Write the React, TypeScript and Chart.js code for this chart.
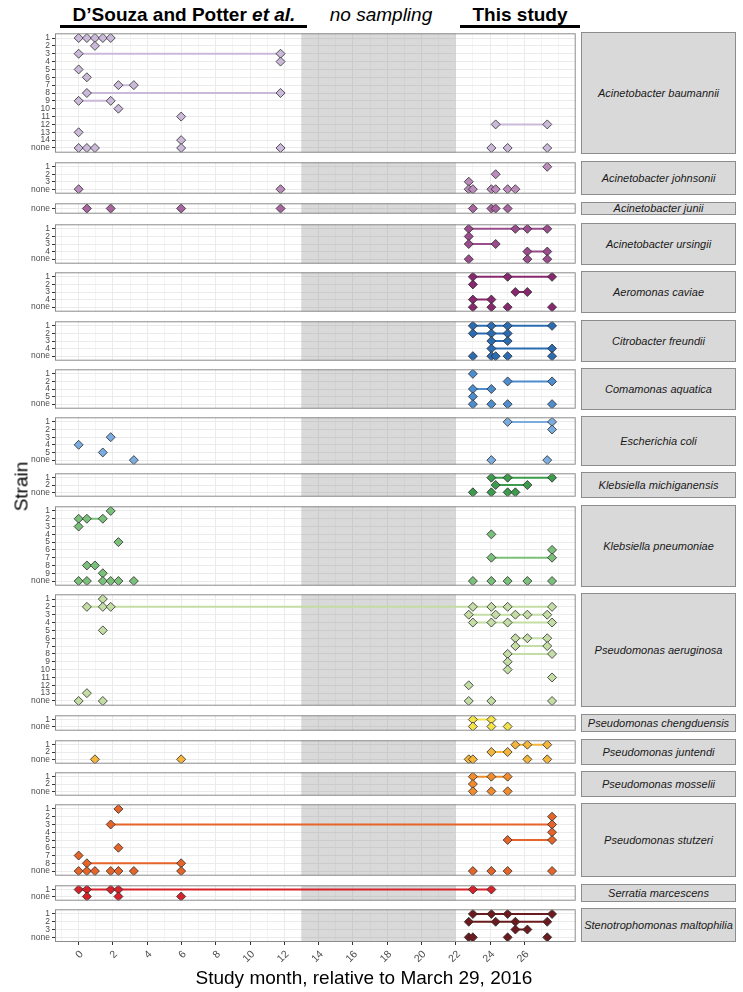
import React, { useEffect, useRef } from 'react';
import { Chart, registerables } from 'chart.js';

Chart.register(...registerables);

type Row = [string, number[]];

// ---------------- data ----------------
const SPECIES = [
  'Acinetobacter baumannii',
  'Acinetobacter johnsonii',
  'Acinetobacter junii',
  'Acinetobacter ursingii',
  'Aeromonas caviae',
  'Citrobacter freundii',
  'Comamonas aquatica',
  'Escherichia coli',
  'Klebsiella michiganensis',
  'Klebsiella pneumoniae',
  'Pseudomonas aeruginosa',
  'Pseudomonas chengduensis',
  'Pseudomonas juntendi',
  'Pseudomonas mosselii',
  'Pseudomonas stutzeri',
  'Serratia marcescens',
  'Stenotrophomonas maltophilia',
];

const COLORS = [
  '#CBB9DA', '#BB8BBC', '#A8649E', '#9A4C8C', '#88286F',
  '#2B6BB2', '#4D8DCF', '#7AACE0',
  '#3C9B4C', '#7ABF7A', '#C4DDA5',
  '#F4E24A', '#F4B53C', '#F08C2C', '#E4642A', '#D8222B', '#6B1B1D',
];

// [strain, study months at which it was observed]
const A_BAUMANNII: Row[] = [
  ['1', [0, 0.48, 0.95, 1.41, 1.87]],
  ['2', [0.95]],
  ['3', [0, 11.78]],
  ['4', [11.78]],
  ['5', [0]],
  ['6', [0.48]],
  ['7', [2.32, 3.22]],
  ['8', [0.48, 11.78]],
  ['9', [0, 1.87]],
  ['10', [2.32]],
  ['11', [5.98]],
  ['12', [24.33, 27.34]],
  ['13', [0]],
  ['14', [5.98]],
  ['none', [0, 0.48, 0.95, 5.98, 11.78, 24.08, 25.03, 27.34]],
];
const A_JOHNSONII: Row[] = [
  ['1', [27.34]],
  ['2', [24.33]],
  ['3', [22.76]],
  ['none', [0, 11.78, 22.76, 23.0, 24.08, 24.33, 25.03, 25.48]],
];
const A_JUNII: Row[] = [
  ['none', [0.48, 1.87, 5.98, 11.78, 23.0, 24.08, 24.33, 25.03]],
];
const A_URSINGII: Row[] = [
  ['1', [22.76, 25.48, 26.18, 27.34]],
  ['2', [22.76]],
  ['3', [22.76, 24.33]],
  ['4', [26.18, 27.34]],
  ['none', [22.76, 26.18, 27.34]],
];
const A_CAVIAE: Row[] = [
  ['1', [23.0, 25.03, 27.62]],
  ['2', [23.0]],
  ['3', [25.48, 26.18]],
  ['4', [23.0, 24.08]],
  ['none', [23.0, 24.08, 25.03, 27.62]],
];
const C_FREUNDII: Row[] = [
  ['1', [23.0, 24.08, 25.03, 27.62]],
  ['2', [23.0, 24.08, 25.03]],
  ['3', [24.08, 25.03]],
  ['4', [24.08, 27.62]],
  ['none', [23.0, 24.08, 24.33, 25.03, 27.62]],
];
const C_AQUATICA: Row[] = [
  ['1', [23.0]],
  ['2', [25.03, 27.62]],
  ['4', [23.0, 24.08]],
  ['5', [23.0]],
  ['none', [23.0, 24.08, 25.03, 27.62]],
];
const E_COLI: Row[] = [
  ['1', [25.03, 27.62]],
  ['2', [27.62]],
  ['3', [1.87]],
  ['4', [0]],
  ['5', [1.41]],
  ['none', [3.22, 24.08, 27.34]],
];
const K_MICHIGANENSIS: Row[] = [
  ['1', [24.08, 25.03, 27.62]],
  ['2', [24.33, 26.18]],
  ['none', [23.0, 24.08, 25.03, 25.48]],
];
const K_PNEUMONIAE: Row[] = [
  ['1', [1.87]],
  ['2', [0, 0.48, 1.41]],
  ['3', [0]],
  ['4', [24.08]],
  ['5', [2.32]],
  ['6', [27.62]],
  ['7', [24.08, 27.62]],
  ['8', [0.48, 0.95]],
  ['9', [1.41]],
  ['none', [0, 0.48, 1.41, 1.87, 2.32, 3.22, 23.0, 24.08, 25.03, 26.18, 27.62]],
];
const P_AERUGINOSA: Row[] = [
  ['1', [1.41]],
  ['2', [0.48, 1.41, 1.87, 23.0, 24.08, 25.03, 27.62]],
  ['3', [22.76, 24.33, 25.48, 26.18, 27.34]],
  ['4', [23.0, 24.08, 25.03, 27.62]],
  ['5', [1.41]],
  ['6', [25.48, 26.18, 27.34]],
  ['7', [25.48, 27.34]],
  ['8', [25.03, 27.62]],
  ['9', [25.03]],
  ['10', [25.03]],
  ['11', [27.62]],
  ['12', [22.76]],
  ['13', [0.48]],
  ['none', [0, 1.41, 22.76, 24.08, 27.62]],
];
const P_CHENGDUENSIS: Row[] = [
  ['1', [23.0, 24.08]],
  ['none', [23.0, 24.08, 25.03]],
];
const P_JUNTENDI: Row[] = [
  ['1', [25.48, 26.18, 27.34]],
  ['2', [24.08, 25.03]],
  ['none', [0.95, 5.98, 22.76, 23.0, 26.18, 27.34]],
];
const P_MOSSELII: Row[] = [
  ['1', [23.0, 24.08, 25.03]],
  ['2', [23.0]],
  ['none', [23.0, 24.08, 25.03]],
];
const P_STUTZERI: Row[] = [
  ['1', [2.32]],
  ['2', [27.62]],
  ['3', [1.87, 27.62]],
  ['4', [27.62]],
  ['5', [25.03, 27.62]],
  ['6', [2.32]],
  ['7', [0]],
  ['8', [0.48, 5.98]],
  ['none', [0, 0.48, 0.95, 1.87, 2.32, 3.22, 5.98, 23.0, 24.08, 25.03, 27.62]],
];
const S_MARCESCENS: Row[] = [
  ['1', [0, 0.48, 1.87, 2.32, 23.0, 24.08]],
  ['none', [0.48, 2.32, 5.98]],
];
const S_MALTOPHILIA: Row[] = [
  ['1', [23.0, 24.08, 25.03, 27.62]],
  ['2', [22.76, 24.33, 25.48, 27.34]],
  ['3', [25.48, 26.18]],
  ['none', [22.76, 23.0, 25.03, 27.34]],
];

const SPECIES_ROWS: Row[][] = [
  A_BAUMANNII, A_JOHNSONII, A_JUNII, A_URSINGII, A_CAVIAE,
  C_FREUNDII, C_AQUATICA, E_COLI, K_MICHIGANENSIS, K_PNEUMONIAE,
  P_AERUGINOSA, P_CHENGDUENSIS, P_JUNTENDI, P_MOSSELII, P_STUTZERI,
  S_MARCESCENS, S_MALTOPHILIA,
];

const X_MIN = -1.38;
const X_MAX = 29.0;
const X_GRID = [-1, 0, 1, 2, 3, 4, 5, 6, 7, 8, 9, 10, 11, 12, 13, 14, 15, 16, 17, 18, 19, 20, 21, 22, 23, 24, 25, 26, 27, 28];
const X_LABELS = [0, 2, 4, 6, 8, 10, 12, 14, 16, 18, 20, 22, 24, 26];
const SHADE_START = 13;
const SHADE_END = 22;

// ---------------- layout ----------------
const FONT = "'Liberation Sans', Arial, Helvetica, sans-serif";
const PANEL_TOPS = [32, 161, 202, 223, 271, 320, 368, 416, 472, 505, 593, 714, 739, 771, 803, 884, 908];
const ROW_UNIT = 8.05;
const PLOT_LEFT = 55;
const CANVAS_W = 581;
const PAD = 4;
const AXIS_H = 36;
const STRIP_LEFT = 581;
const STRIP_W = 155;

function panelHeight(n: number) {
  return n === 1 ? 13 : Math.round((n + 0.2) * ROW_UNIT);
}

const shadePlugin = {
  id: 'shade',
  beforeDatasetsDraw(chart: any) {
    const { ctx, chartArea: a, scales } = chart;
    const x0 = scales.x.getPixelForValue(SHADE_START);
    const x1 = scales.x.getPixelForValue(SHADE_END);
    ctx.save();
    ctx.fillStyle = 'rgba(140,140,140,0.33)';
    ctx.fillRect(x0, a.top, x1 - x0, a.bottom - a.top);
    ctx.restore();
  },
};

const borderPlugin = {
  id: 'panelBorder',
  afterDraw(chart: any) {
    const { ctx, chartArea: a } = chart;
    ctx.save();
    ctx.strokeStyle = '#8C8C8C';
    ctx.lineWidth = 1;
    ctx.strokeRect(a.left + 0.5, a.top + 0.5, a.right - a.left - 1, a.bottom - a.top - 1);
    ctx.restore();
  },
};

function Panel({ idx }: { idx: number }) {
  const ref = useRef<HTMLCanvasElement>(null);
  const rows = SPECIES_ROWS[idx];
  const n = rows.length;
  const isLast = idx === SPECIES.length - 1;
  const h = panelHeight(n);
  const canvasH = PAD + h + (isLast ? AXIS_H : PAD);

  useEffect(() => {
    const color = COLORS[idx];
    const strains = rows.map((r) => r[0]);
    const datasets: any[] = [];
    rows.forEach(([strain, months], i) => {
      if (strain !== 'none' && months.length > 1) {
        datasets.push({
          data: [...months].sort((a, b) => a - b).map((m) => ({ x: m, y: i })),
          showLine: true,
          borderColor: color,
          borderWidth: 2,
          pointRadius: 0,
          pointHoverRadius: 0,
          order: 1,
        });
      }
    });
    datasets.push({
      data: rows.flatMap(([, months], i) => months.map((m) => ({ x: m, y: i }))),
      showLine: false,
      pointStyle: 'rectRot',
      pointRadius: 4.5,
      pointHoverRadius: 4.5,
      pointBackgroundColor: color,
      pointBorderColor: '#2B2B2B',
      pointBorderWidth: 0.8,
      order: 0,
    });

    const chart = new Chart(ref.current as HTMLCanvasElement, {
      type: 'scatter',
      data: { datasets },
      options: {
        responsive: false,
        animation: false,
        devicePixelRatio: 1,
        events: [],
        layout: { padding: { left: 0, right: 1, top: PAD, bottom: isLast ? 0 : PAD } },
        plugins: { legend: { display: false }, tooltip: { enabled: false } },
        scales: {
          x: {
            type: 'linear',
            bounds: 'data',
            min: X_MIN,
            max: X_MAX,
            afterBuildTicks: (s: any) => {
              s.ticks = X_GRID.map((v) => ({ value: v }));
            },
            afterFit: (s: any) => {
              s.height = isLast ? AXIS_H : 0;
              s.paddingLeft = 0;
              s.paddingRight = 0;
            },
            border: { display: false },
            grid: {
              color: (c: any) => (X_LABELS.includes(c.tick?.value) ? '#EBEBEB' : '#F1F1F1'),
              lineWidth: (c: any) => (X_LABELS.includes(c.tick?.value) ? 1 : 0.8),
              drawTicks: isLast,
              tickLength: 3,
              tickWidth: 1,
              tickColor: (c: any) => (X_LABELS.includes(c.tick?.value) ? '#333333' : 'rgba(0,0,0,0)'),
            },
            ticks: {
              display: isLast,
              autoSkip: false,
              minRotation: 45,
              maxRotation: 45,
              padding: 3,
              labelOffset: 3,
              color: '#4D4D4D',
              font: { size: 10.5, family: FONT },
              callback: (v: any) => (X_LABELS.includes(v) ? String(v) : ''),
            },
          },
          y: {
            type: 'linear',
            bounds: 'data',
            min: -0.6,
            max: n - 0.4,
            reverse: true,
            afterBuildTicks: (s: any) => {
              s.ticks = strains.map((_, i) => ({ value: i }));
            },
            afterFit: (s: any) => {
              s.width = PLOT_LEFT;
              s.paddingTop = 0;
              s.paddingBottom = 0;
            },
            border: { display: false },
            grid: {
              color: '#EBEBEB',
              lineWidth: 1,
              tickLength: 3,
              tickWidth: 1,
              tickColor: '#333333',
            },
            ticks: {
              autoSkip: false,
              padding: 2,
              color: '#4D4D4D',
              font: { size: 8.5, family: FONT },
              callback: (v: any) => strains[v] ?? '',
            },
          },
        },
      } as any,
      plugins: [shadePlugin, borderPlugin],
    });
    return () => chart.destroy();
  }, []);

  return (
    <canvas
      ref={ref}
      width={CANVAS_W}
      height={canvasH}
      style={{ position: 'absolute', left: 0, top: PANEL_TOPS[idx] - PAD, width: CANVAS_W, height: canvasH }}
    />
  );
}

export default function App() {
  const headerBase: React.CSSProperties = {
    position: 'absolute',
    top: 5,
    height: 19,
    fontSize: 19,
    lineHeight: '19px',
    textAlign: 'center',
    color: '#000',
    whiteSpace: 'nowrap',
    width: 300,
  };
  return (
    <div
      style={{
        position: 'absolute',
        left: 0,
        top: 0,
        width: 743,
        height: 992,
        background: '#FFFFFF',
        fontFamily: FONT,
        overflow: 'hidden',
      }}
    >
      <div style={{ ...headerBase, left: 184 - 150, fontWeight: 'bold' }}>
        D’Souza and Potter <i>et al.</i>
      </div>
      <div style={{ position: 'absolute', left: 60, top: 25, width: 247, height: 3, background: '#000' }} />
      <div style={{ ...headerBase, left: 381 - 150, fontStyle: 'italic' }}>no sampling</div>
      <div style={{ ...headerBase, left: 520 - 150, fontWeight: 'bold' }}>This study</div>
      <div style={{ position: 'absolute', left: 460, top: 25, width: 120, height: 3, background: '#000' }} />

      {SPECIES.map((name, i) => (
        <Panel key={name} idx={i} />
      ))}

      {SPECIES.map((name, i) => (
        <div
          key={'strip-' + name}
          style={{
            position: 'absolute',
            left: STRIP_LEFT,
            top: PANEL_TOPS[i],
            width: STRIP_W,
            height: panelHeight(SPECIES_ROWS[i].length),
            boxSizing: 'border-box',
            background: '#D9D9D9',
            border: '1px solid #8C8C8C',
            display: 'flex',
            alignItems: 'center',
            justifyContent: 'center',
            fontStyle: 'italic',
            fontSize: 11,
            lineHeight: '11px',
            color: '#1A1A1A',
            whiteSpace: 'nowrap',
          }}
        >
          {name}
        </div>
      ))}

      <div
        style={{
          position: 'absolute',
          left: 20.5 - 100,
          top: 486 - 9.5,
          width: 200,
          height: 19,
          fontSize: 19,
          lineHeight: '19px',
          textAlign: 'center',
          transform: 'rotate(-90deg)',
          color: '#000',
        }}
      >
        Strain
      </div>
      <div
        style={{
          position: 'absolute',
          left: 364 - 250,
          top: 968,
          width: 500,
          height: 19,
          fontSize: 19,
          lineHeight: '19px',
          textAlign: 'center',
          color: '#000',
          whiteSpace: 'nowrap',
        }}
      >
        Study month, relative to March 29, 2016
      </div>
    </div>
  );
}
